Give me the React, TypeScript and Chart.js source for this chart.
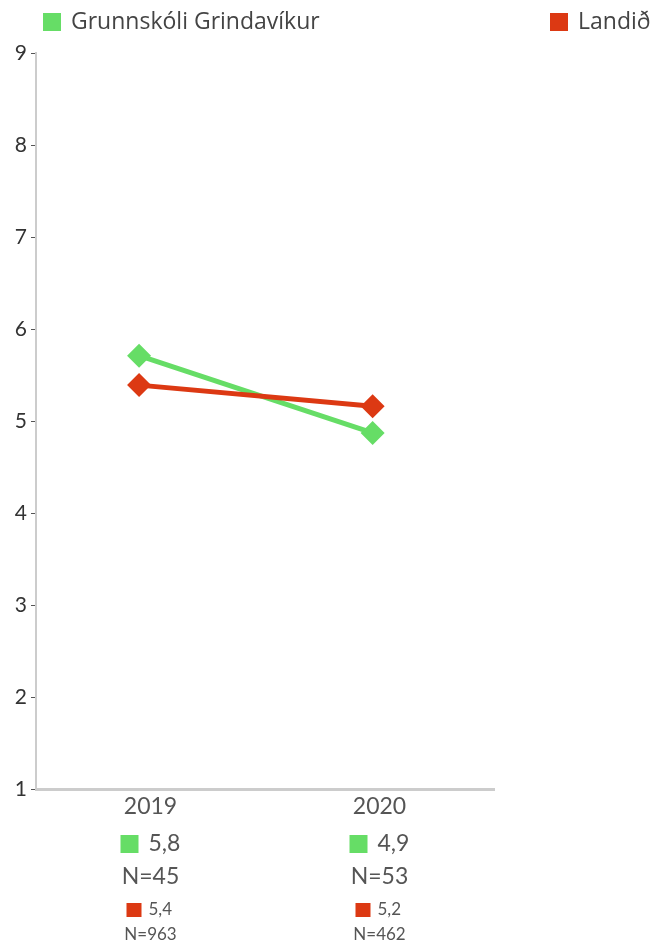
import React, { useEffect, useRef } from "react";
import { Chart, registerables } from "chart.js";

Chart.register(...registerables);

// ---- data ----
const years = [2019, 2020];
const seriesNames = ["Grunnskóli Grindavíkur", "Landið"];
// x position of each plotted point (in year units, as drawn in the reference)
const pointYears = [2018.95, 2019.97];
const schoolValues = [5.71, 4.87];
const countryValues = [5.39, 5.16];
const schoolAvgLabels = ["5,8", "4,9"];
const schoolN = ["N=45", "N=53"];
const countryAvgLabels = ["5,4", "5,2"];
const countryN = ["N=963", "N=462"];
const yTicks = [1, 2, 3, 4, 5, 6, 7, 8, 9];

const GREEN = "#66dd66";
const RED = "#dc3913";
const FONT = "Lato, 'Open Sans', sans-serif";
const LEGEND_FONT = "'Open Sans', Lato, sans-serif";

const overlayPlugin = {
  id: "overlay",
  afterDraw(chart: any) {
    const ctx = chart.ctx;
    const xs = chart.scales.x;
    ctx.save();
    // legend
    const legendItems = [
      { x: 43, color: GREEN, text: seriesNames[0] },
      { x: 550, color: RED, text: seriesNames[1] },
    ];
    ctx.textBaseline = "middle";
    ctx.textAlign = "left";
    ctx.font = `23px ${LEGEND_FONT}`;
    legendItems.forEach((it) => {
      ctx.fillStyle = it.color;
      ctx.fillRect(it.x, 13, 18, 18);
      ctx.fillStyle = "#444";
      ctx.fillText(it.text, it.x + 28, 22);
    });

    // bottom labels
    years.forEach((yr, i) => {
      const cx = xs.getPixelForValue(yr);
      ctx.textAlign = "center";
      ctx.fillStyle = "#555";
      ctx.font = `23px ${FONT}`;
      ctx.fillText(String(yr), cx, 807);

      ctx.fillStyle = GREEN;
      ctx.fillRect(cx - 30, 835, 18, 18);
      ctx.fillStyle = "#555";
      ctx.textAlign = "left";
      ctx.font = `23px ${FONT}`;
      ctx.fillText(schoolAvgLabels[i], cx - 2, 844);
      ctx.textAlign = "center";
      ctx.fillText(schoolN[i], cx, 877);

      ctx.fillStyle = RED;
      ctx.fillRect(cx - 24, 903, 15, 14);
      ctx.fillStyle = "#555";
      ctx.textAlign = "left";
      ctx.font = `17px ${FONT}`;
      ctx.fillText(countryAvgLabels[i], cx - 2, 910);
      ctx.textAlign = "center";
      ctx.fillText(countryN[i], cx, 935);
    });
    ctx.restore();
  },
};

export default function App() {
  const ref = useRef<HTMLCanvasElement>(null);
  useEffect(() => {
    if (!ref.current) return;
    const mk = (vals: number[]) => vals.map((v, i) => ({ x: pointYears[i], y: v }));
    const chart = new Chart(ref.current, {
      type: "line",
      data: {
        datasets: [
          {
            label: seriesNames[1],
            data: mk(countryValues),
            borderColor: RED,
            backgroundColor: RED,
            borderWidth: 5,
            pointStyle: "rectRot",
            pointRadius: 12,
            pointHoverRadius: 12,
            pointBorderWidth: 0,
          },
          {
            label: seriesNames[0],
            data: mk(schoolValues),
            borderColor: GREEN,
            backgroundColor: GREEN,
            borderWidth: 5,
            pointStyle: "rectRot",
            pointRadius: 12,
            pointHoverRadius: 12,
            pointBorderWidth: 0,
          },
        ],
      },
      options: {
        animation: false,
        responsive: false,
        maintainAspectRatio: false,
        layout: { padding: { top: 53, right: 160, bottom: 155, left: 0 } },
        plugins: { legend: { display: false }, tooltip: { enabled: false } },
        scales: {
          x: {
            type: "linear",
            min: 2018.5,
            max: 2020.5,
            afterBuildTicks: (s: any) => {
              s.ticks = years.map((v) => ({ value: v }));
            },
            afterFit: (s: any) => {
              s.height = 0;
            },
            ticks: { display: false },
            grid: { display: false },
            border: { display: true, color: "#cccccc", width: 3 },
          },
          y: {
            min: 1,
            max: 9,
            afterBuildTicks: (s: any) => {
              s.ticks = yTicks.map((v) => ({ value: v }));
            },
            afterFit: (s: any) => {
              s.width = 36;
            },
            ticks: {
              font: { family: FONT, size: 21 },
              color: "#333",
              padding: 4,
            },
            grid: {
              display: true,
              drawOnChartArea: false,
              drawTicks: true,
              tickLength: 5,
              tickColor: "#555",
              tickWidth: 1,
            },
            border: { display: true, color: "#cccccc", width: 2 },
          },
        },
      },
      plugins: [overlayPlugin],
    });
    return () => chart.destroy();
  }, []);
  return (
    <div style={{ position: "absolute", left: 0, top: 0, width: 654, height: 944 }}>
      <canvas ref={ref} width={654} height={944} style={{ width: 654, height: 944, display: "block" }} />
    </div>
  );
}
